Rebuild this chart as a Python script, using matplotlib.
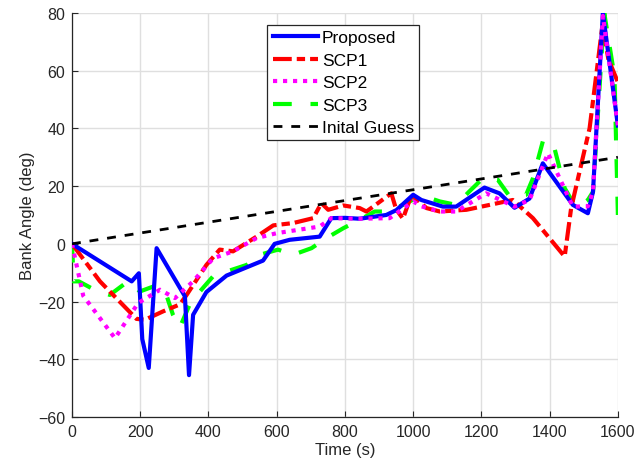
import matplotlib
matplotlib.use('Agg')
import matplotlib.pyplot as plt
import numpy as np

plt.rcParams['font.family'] = ['Liberation Sans', 'DejaVu Sans']

# 数据
t_prop = [0, 175, 196, 206, 225, 248, 331, 343, 355, 394, 453, 560, 594, 638, 726, 760, 800, 843,
          921, 951, 1000, 1024, 1087, 1126, 1209, 1253, 1297, 1341, 1380, 1468, 1512, 1527, 1556, 1600]
y_prop = [0, -13, -10.2, -33, -43, -1.5, -18.2, -45.5, -24.6, -16.7, -11, -5.8, 0, 1.4, 2.5, 8.9, 9, 8.7,
          10, 11.7, 17, 15.2, 12.9, 12.9, 19.5, 17.5, 12.5, 15.7, 27.9, 13.5, 10.6, 18, 80, 41]

t_scp1 = [0, 82, 189, 214, 267, 316, 336, 394, 433, 472, 541, 590, 648, 707, 731, 751, 795, 843, 863,
          936, 950, 970, 995, 1039, 1078, 1156, 1292, 1351, 1444, 1463, 1517, 1555, 1572, 1600]
y_scp1 = [0, -13, -26, -26.3, -23.4, -21, -17.7, -7.3, -2, -2.6, 2.5, 6.4, 7.2, 8.9, 14.1, 11.8, 13.3, 12.4, 11.2,
          17.5, 12, 8.7, 17, 12.4, 11.2, 11.8, 15.2, 8.9, -4.4, 12.4, 40, 76, 64, 56]

t_scp2 = [0, 33, 126, 194, 258, 302, 355, 414, 472, 541, 600, 726, 760, 843, 931, 1000, 1024, 1078,
          1126, 1214, 1297, 1341, 1395, 1468, 1512, 1527, 1556, 1600]
y_scp2 = [0, -18, -32.7, -20.5, -15.9, -18.8, -13, -5, -2.6, 2, 3.7, 6, 8.9, 8.7, 8.9, 14.7, 13, 11.2,
          11.2, 17.5, 12.9, 15.2, 31.4, 12.9, 13, 18, 79, 41]

t_scp3 = [0, 5, 20, 67, 111, 164, 199, 252, 278, 296, 316, 345, 375, 414, 453, 512, 550, 604, 648,
          702, 746, 795, 843, 887, 926, 970, 1024, 1078, 1126, 1165, 1204, 1248, 1283, 1331, 1351,
          1380, 1409, 1444, 1478, 1512, 1527, 1560, 1590, 1600]
y_scp3 = [0, -13, -13, -16, -17.7, -13, -16.5, -14.2, -18.2, -24.6, -29, -21, -16.5, -11.2, -9.6, -7.3, -3.8, -2, -3.8,
          -1.5, 2, 5.4, 8.3, 11.2, 11.2, 13.5, 16.8, 14.7, 13.5, 18.2, 22.7, 22.2, 16.4, 17, 22.7,
          35.5, 35.5, 19.3, 12.4, 15.2, 18, 80, 58, 10]

t_guess = [0, 1600]
y_guess = [0, 30]

fig = plt.figure(figsize=(6.37, 4.77), dpi=100)
ax = fig.add_axes([0.113, 0.1237, 0.857, 0.847])

ax.plot(t_prop, y_prop, color=(0, 0, 1), lw=3, label='Proposed', zorder=5)
ax.plot(t_scp1, y_scp1, color=(1, 0, 0), lw=3, linestyle=(0, (4.5, 1.2, 2, 1.2)), label='SCP1', zorder=4)
ax.plot(t_scp2, y_scp2, color=(1, 0, 1), lw=3, linestyle=(0, (1, 1.4)), label='SCP2', zorder=6)
ax.plot(t_scp3, y_scp3, color=(0, 1, 0), lw=3, linestyle=(0, (4.5, 4.5)), label='SCP3', zorder=3)
ax.plot(t_guess, y_guess, color='black', lw=2, linestyle=(0, (3.2, 3.2)), label='Inital Guess', zorder=7)

ax.set_xlim(0, 1600)
ax.set_ylim(-60, 80)
ax.set_xticks(np.arange(0, 1601, 200))
ax.set_yticks(np.arange(-60, 81, 20))
ax.grid(True, color='#dfdfdf', lw=1)
ax.set_axisbelow(True)
for s in ['top', 'right']:
    ax.spines[s].set_visible(False)
for s in ['left', 'bottom']:
    ax.spines[s].set_color('#262626')
    ax.spines[s].set_linewidth(0.9)
ax.tick_params(direction='in', length=4, colors='#262626', labelsize=11.5, pad=5)

ax.set_xlabel('Time (s)', fontsize=12, color='#262626', labelpad=2)
ax.set_ylabel('Bank Angle (deg)', fontsize=12, color='#262626', labelpad=2)

leg = ax.legend(loc='upper left', bbox_to_anchor=(0.358, 0.970), fontsize=12.5,
                handlelength=2.6, handletextpad=0.25, borderpad=0.3, labelspacing=0.42,
                fancybox=False, framealpha=1, edgecolor='#262626', borderaxespad=0)
leg.get_frame().set_linewidth(0.9)

plt.savefig('out.png', dpi=100)
